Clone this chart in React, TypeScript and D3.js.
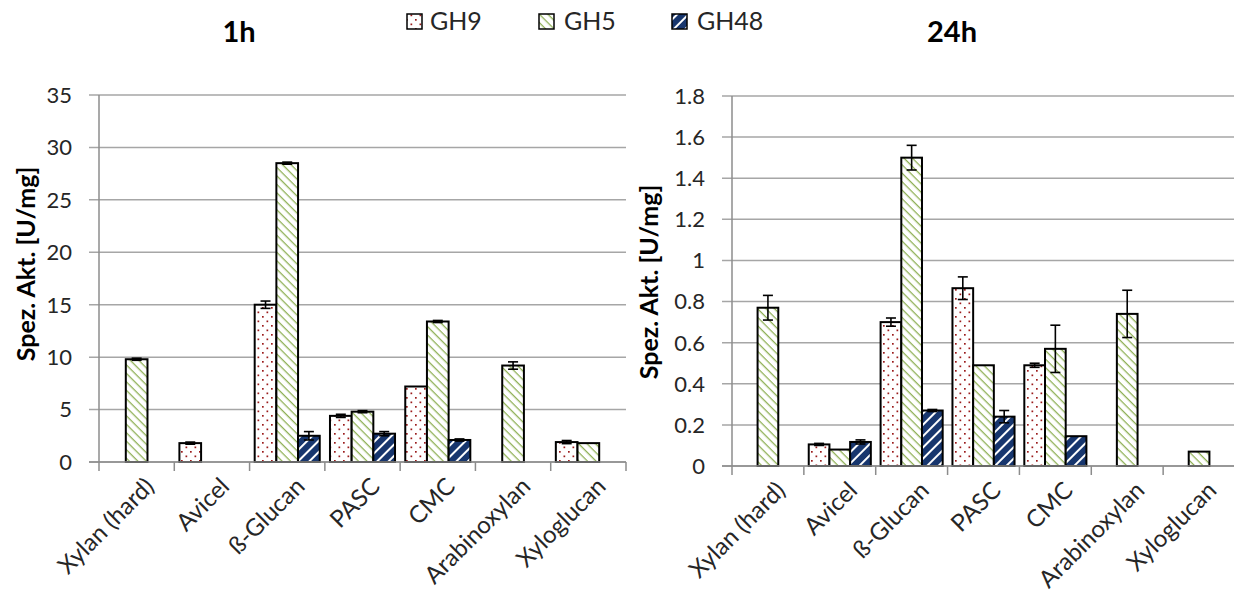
import React from "react";
import * as d3 from "d3";

const categories = ["Xylan (hard)", "Avicel", "ß-Glucan", "PASC", "CMC", "Arabinoxylan", "Xyloglucan"];
const seriesNames = ["GH9", "GH5", "GH48"];

// 1h values (null = no bar)
const gh9_1h = [null, 1.8, 15.0, 4.4, 7.2, null, 1.9];
const gh5_1h = [9.8, null, 28.5, 4.8, 13.4, 9.2, 1.8];
const gh48_1h = [null, null, 2.5, 2.7, 2.1, null, null];
const gh9_1h_err = [0, 0.1, 0.35, 0.15, 0, 0, 0.15];
const gh5_1h_err = [0.1, 0, 0.1, 0.1, 0.1, 0.35, 0];
const gh48_1h_err = [0, 0, 0.4, 0.2, 0.1, 0, 0];

// 24h values
const gh9_24h = [null, 0.105, 0.70, 0.865, 0.49, null, null];
const gh5_24h = [0.77, 0.08, 1.50, 0.49, 0.57, 0.74, 0.07];
const gh48_24h = [null, 0.117, 0.27, 0.24, 0.145, null, null];
const gh9_24h_err = [0, 0.005, 0.02, 0.055, 0.01, 0, 0];
const gh5_24h_err = [0.06, 0, 0.06, 0, 0.115, 0.115, 0];
const gh48_24h_err = [0, 0.01, 0.005, 0.03, 0, 0, 0];

const ticks1h = [0, 5, 10, 15, 20, 25, 30, 35];
const ticks24h = [0, 0.2, 0.4, 0.6, 0.8, 1, 1.2, 1.4, 1.6, 1.8];

const FONT = "Lato, 'Open Sans', sans-serif";
const fills = ["url(#pDots)", "url(#pGreen)", "url(#pBlue)"];

type PanelProps = {
  title: string;
  titleX: number;
  x0: number;
  x1: number;
  yTop: number;
  yBottom: number;
  yMax: number;
  ticks: number[];
  values: (number | null)[][];
  errors: number[][];
  labelX: number;
  labelY: number;
};

function Panel(p: PanelProps) {
  const x = d3.scaleBand<string>().domain(categories).range([p.x0, p.x1]).padding(0);
  const bw = x.bandwidth();
  const inner = d3
    .scaleBand<string>()
    .domain(seriesNames)
    .range([bw * 0.068, bw * (1 - 0.068)])
    .padding(0);
  const y = d3.scaleLinear().domain([0, p.yMax]).range([p.yBottom, p.yTop]);
  const fmt = (v: number) => String(+v.toFixed(2));
  return (
    <g>
      <text x={p.titleX} y={42} textAnchor="middle" fontFamily={FONT} fontWeight="bold" fontSize={29} fill="#000">
        {p.title}
      </text>
      {p.ticks.map((t) => (
        <g key={t}>
          <line x1={p.x0 - 10} x2={p.x1} y1={y(t)} y2={y(t)} stroke="#a6a6a6" strokeWidth={1.5} />
          <text
            x={p.x0 - 27}
            y={y(t)}
            dy="0.36em"
            textAnchor="end"
            fontFamily={FONT}
            fontSize={22}
            fill="#262626"
          >
            {fmt(t)}
          </text>
        </g>
      ))}
      <line x1={p.x0} x2={p.x0} y1={p.yTop} y2={p.yBottom} stroke="#8c8c8c" strokeWidth={1.5} />
      {categories.map((c, i) => (
        <line key={"t" + i} x1={x(c)!} x2={x(c)!} y1={p.yBottom} y2={p.yBottom + 9} stroke="#8c8c8c" strokeWidth={1.5} />
      ))}
      <line x1={p.x1} x2={p.x1} y1={p.yBottom} y2={p.yBottom + 9} stroke="#8c8c8c" strokeWidth={1.5} />
      {categories.map((c, i) =>
        seriesNames.map((s, k) => {
          const v = p.values[k][i];
          if (v == null) return null;
          const bx = x(c)! + inner(s)!;
          const bwi = inner.bandwidth();
          const e = p.errors[k][i];
          const cx = bx + bwi / 2;
          return (
            <g key={c + s}>
              <rect x={bx} y={y(v)} width={bwi} height={p.yBottom - y(v)} fill={fills[k]} stroke="#000" strokeWidth={2} />
              {e > 0 && (
                <g stroke="#000" strokeWidth={1.6}>
                  <line x1={cx} x2={cx} y1={y(v + e)} y2={y(v - e)} />
                  <line x1={cx - 5} x2={cx + 5} y1={y(v + e)} y2={y(v + e)} />
                  <line x1={cx - 5} x2={cx + 5} y1={y(v - e)} y2={y(v - e)} />
                </g>
              )}
            </g>
          );
        })
      )}
      <line x1={p.x0 - 10} x2={p.x1} y1={p.yBottom} y2={p.yBottom} stroke="#8c8c8c" strokeWidth={1.5} />
      {categories.map((c, i) => {
        const cx = x(c)! + bw / 2;
        return (
          <text
            key={"l" + i}
            transform={`translate(${cx + 7},${p.yBottom + 14}) rotate(-45)`}
            textAnchor="end"
            dy="0.7em"
            fontFamily={FONT}
            fontSize={24}
            fill="#262626"
          >
            {c}
          </text>
        );
      })}
      <text
        transform={`translate(${p.labelX},${p.labelY}) rotate(-90)`}
        textAnchor="middle"
        dy="0.35em"
        fontFamily={FONT}
        fontWeight="bold"
        fontSize={25}
        fill="#000"
      >
        Spez. Akt. [U/mg]
      </text>
    </g>
  );
}

export default function App() {
  const legendItems = [
    { name: "GH9", bx: 407, tx: 430 },
    { name: "GH5", bx: 539, tx: 564 },
    { name: "GH48", bx: 672, tx: 697 },
  ];
  return (
    <svg
      width={1234}
      height={602}
      style={{ position: "absolute", left: 0, top: 0, background: "#fff" }}
    >
      <defs>
        <pattern id="pDots" patternUnits="userSpaceOnUse" width={9} height={9}>
          <rect width={9} height={9} fill="#fff" />
          <rect x={1} y={1} width={1.7} height={1.7} fill="#9b1c1c" />
          <rect x={5.5} y={5.5} width={1.7} height={1.7} fill="#9b1c1c" />
        </pattern>
        <pattern id="pGreen" patternUnits="userSpaceOnUse" width={6} height={6} patternTransform="rotate(45)">
          <rect width={6} height={6} fill="#fff" />
          <line x1={0} y1={0} x2={6} y2={0} stroke="#8fb056" strokeWidth={2.6} />
        </pattern>
        <pattern id="pBlue" patternUnits="userSpaceOnUse" width={8} height={8} patternTransform="rotate(-45)">
          <rect width={8} height={8} fill="#17366e" />
          <line x1={0} y1={0} x2={8} y2={0} stroke="#fff" strokeWidth={4} />
        </pattern>
      </defs>
      <Panel
        title="1h"
        titleX={239}
        x0={99}
        x1={626}
        yTop={95}
        yBottom={462}
        yMax={35}
        ticks={ticks1h}
        values={[gh9_1h, gh5_1h, gh48_1h]}
        errors={[gh9_1h_err, gh5_1h_err, gh48_1h_err]}
        labelX={26}
        labelY={264}
      />
      <Panel
        title="24h"
        titleX={952}
        x0={732}
        x1={1235}
        yTop={96}
        yBottom={466}
        yMax={1.8}
        ticks={ticks24h}
        values={[gh9_24h, gh5_24h, gh48_24h]}
        errors={[gh9_24h_err, gh5_24h_err, gh48_24h_err]}
        labelX={649}
        labelY={282}
      />
      {legendItems.map((l, k) => (
        <g key={l.name}>
          <rect x={l.bx} y={14} width={15} height={15} fill={fills[k]} stroke="#000" strokeWidth={1.5} />
          <text x={l.tx} y={30} fontFamily={FONT} fontSize={25} fill="#262626">
            {l.name}
          </text>
        </g>
      ))}
    </svg>
  );
}
